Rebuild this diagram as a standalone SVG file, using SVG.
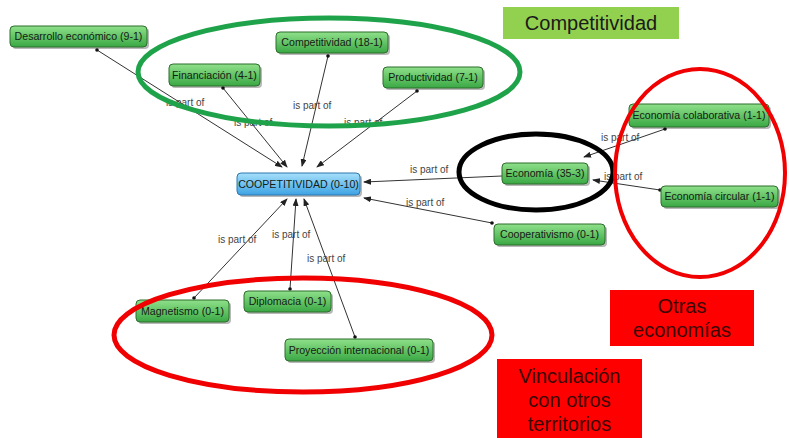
<svg xmlns="http://www.w3.org/2000/svg" width="789" height="438" viewBox="0 0 789 438">
<style>
.n rect.b{fill:url(#gg);stroke:#2d6e2d;stroke-width:1}
.n text,.c text{font-family:"Liberation Sans",Arial,sans-serif}
.n text{font-size:10.6px;fill:#142014;text-anchor:middle}
.c line{stroke:#333;stroke-width:1}
.c text{font-size:10px;fill:#444}
.dot{fill:#111}
.sh{fill:#000;opacity:0.28}
.big{font-family:"Liberation Sans",Arial,sans-serif;font-size:20px;text-anchor:middle}
</style>
<defs>
<linearGradient id="gg" x1="0" y1="0" x2="0" y2="1"><stop offset="0" stop-color="#8fe08a"/><stop offset="1" stop-color="#3aa844"/></linearGradient>
<linearGradient id="bg" x1="0" y1="0" x2="0" y2="1"><stop offset="0" stop-color="#a6e0fb"/><stop offset="1" stop-color="#3ea3e3"/></linearGradient>
<marker id="ah" markerWidth="8" markerHeight="6" refX="7" refY="3" orient="auto" markerUnits="userSpaceOnUse"><path d="M0,0 L8,3 L0,6 z" fill="#222"/></marker>
</defs>
<rect width="789" height="438" fill="#fff"/>
<g id="connectors" class="c">
<line x1="97" y1="50" x2="282" y2="167" marker-end="url(#ah)"/>
<line x1="223" y1="88" x2="287" y2="167" marker-end="url(#ah)"/>
<line x1="328" y1="56" x2="302" y2="166" marker-end="url(#ah)"/>
<line x1="417" y1="91" x2="317" y2="167" marker-end="url(#ah)"/>
<line x1="502" y1="176" x2="364" y2="182" marker-end="url(#ah)"/>
<line x1="492" y1="223" x2="364" y2="198" marker-end="url(#ah)"/>
<line x1="665" y1="129" x2="584" y2="157" marker-end="url(#ah)"/>
<line x1="660" y1="190" x2="593" y2="180" marker-end="url(#ah)"/>
<line x1="194" y1="298" x2="287" y2="199" marker-end="url(#ah)"/>
<line x1="290" y1="289" x2="296" y2="199" marker-end="url(#ah)"/>
<line x1="355" y1="337" x2="304" y2="199" marker-end="url(#ah)"/>
<circle class="dot" cx="97" cy="50" r="1.8"/>
<circle class="dot" cx="223" cy="88" r="1.8"/>
<circle class="dot" cx="328" cy="56" r="1.8"/>
<circle class="dot" cx="417" cy="91" r="1.8"/>
<circle class="dot" cx="492" cy="223" r="1.8"/>
<circle class="dot" cx="665" cy="129" r="1.8"/>
<circle class="dot" cx="660" cy="190" r="1.8"/>
<circle class="dot" cx="194" cy="298" r="1.8"/>
<circle class="dot" cx="290" cy="289" r="1.8"/>
<circle class="dot" cx="355" cy="337" r="1.8"/>
<text x="166" y="106">is part of</text>
<text x="234" y="126">is part of</text>
<text x="293" y="109">is part of</text>
<text x="344" y="126">is part of</text>
<text x="410" y="173">is part of</text>
<text x="406" y="206">is part of</text>
<text x="601" y="141">is part of</text>
<text x="604" y="180">is part of</text>
<text x="218" y="243">is part of</text>
<text x="272" y="238">is part of</text>
<text x="307" y="262">is part of</text>
</g>
<g id="n-desarrollo" class="n"><rect class="sh" x="12" y="28" width="137" height="21" rx="4"/><rect class="b" x="10" y="26" width="137" height="21" rx="4"/><text x="78.5" y="40">Desarrollo económico (9-1)</text></g>
<g id="n-competitividad" class="n"><rect class="sh" x="278" y="34" width="112" height="21" rx="4"/><rect class="b" x="276" y="32" width="112" height="21" rx="4"/><text x="332" y="46">Competitividad (18-1)</text></g>
<g id="n-financiacion" class="n"><rect class="sh" x="171" y="66" width="91" height="22" rx="4"/><rect class="b" x="169" y="64" width="91" height="22" rx="4"/><text x="214.5" y="78.5">Financiación (4-1)</text></g>
<g id="n-productividad" class="n"><rect class="sh" x="385" y="69" width="100" height="21" rx="4"/><rect class="b" x="383" y="67" width="100" height="21" rx="4"/><text x="433" y="81">Productividad (7-1)</text></g>
<g id="n-coopetitividad" class="n"><rect class="sh" x="239" y="175" width="123" height="22" rx="4"/><rect x="237" y="173" width="123" height="22" rx="4" fill="url(#bg)" stroke="#2b78b0"/><text x="298.5" y="187.5" fill="#0d2a4a">COOPETITIVIDAD (0-10)</text></g>
<g id="n-economia" class="n"><rect class="sh" x="504" y="165" width="86" height="21" rx="4"/><rect class="b" x="502" y="163" width="86" height="21" rx="4"/><text x="545" y="177">Economía (35-3)</text></g>
<g id="n-colaborativa" class="n"><rect class="sh" x="631" y="106" width="140" height="23" rx="4"/><rect class="b" x="629" y="104" width="140" height="23" rx="4"/><text x="699" y="119">Economía colaborativa (1-1)</text></g>
<g id="n-circular" class="n"><rect class="sh" x="663" y="188" width="117" height="21" rx="4"/><rect class="b" x="661" y="186" width="117" height="21" rx="4"/><text x="719.5" y="200">Economía circular (1-1)</text></g>
<g id="n-cooperativismo" class="n"><rect class="sh" x="496" y="226" width="111" height="21" rx="4"/><rect class="b" x="494" y="224" width="111" height="21" rx="4"/><text x="549.5" y="238">Cooperativismo (0-1)</text></g>
<g id="n-magnetismo" class="n"><rect class="sh" x="138" y="302" width="93" height="22" rx="4"/><rect class="b" x="136" y="300" width="93" height="22" rx="4"/><text x="182.5" y="314.5">Magnetismo (0-1)</text></g>
<g id="n-diplomacia" class="n"><rect class="sh" x="246" y="293" width="87" height="21" rx="4"/><rect class="b" x="244" y="291" width="87" height="21" rx="4"/><text x="287.5" y="305">Diplomacia (0-1)</text></g>
<g id="n-proyeccion" class="n"><rect class="sh" x="287" y="341" width="148" height="22" rx="4"/><rect class="b" x="285" y="339" width="148" height="22" rx="4"/><text x="359" y="353.5">Proyección internacional (0-1)</text></g>
<g id="highlights" fill="none">
<ellipse cx="329" cy="72" rx="191" ry="54" stroke="#1fa34a" stroke-width="5"/>
<ellipse cx="536" cy="172" rx="77" ry="38" stroke="#000" stroke-width="5"/>
<ellipse cx="700" cy="173" rx="85" ry="104" stroke="#f00000" stroke-width="4"/>
<ellipse cx="303" cy="335" rx="189" ry="57" stroke="#f00000" stroke-width="5"/>
</g>
<g id="tag-competitividad"><rect x="503" y="7" width="176" height="32" fill="#92d050"/><text class="big" x="591" y="30" fill="#1a1a1a">Competitividad</text></g>
<g id="tag-otras"><rect x="610" y="290" width="144" height="56" fill="#ff0000"/><text class="big" x="682" y="313" fill="#3a0808">Otras</text><text class="big" x="682" y="337" fill="#3a0808">economías</text></g>
<g id="tag-vinculacion"><rect x="497" y="359" width="145" height="79" fill="#ff0000"/><text class="big" x="569.5" y="383" fill="#3a0808">Vinculación</text><text class="big" x="569.5" y="407" fill="#3a0808">con otros</text><text class="big" x="569.5" y="431" fill="#3a0808">territorios</text></g>
</svg>
